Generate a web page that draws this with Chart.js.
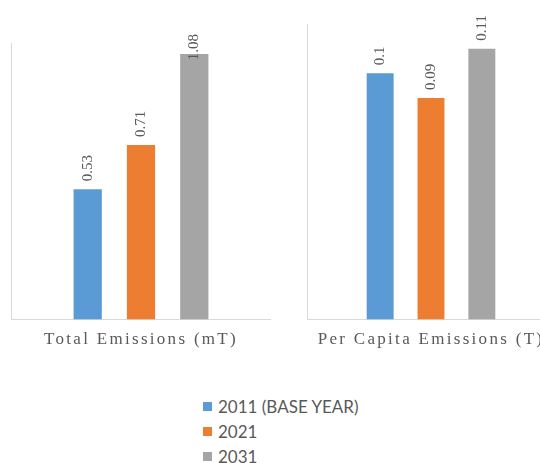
<!DOCTYPE html>
<html>
<head>
<meta charset="utf-8">
<script src="https://cdn.jsdelivr.net/npm/chart.js@4.4.1/dist/chart.umd.min.js"></script>
<style>
  html, body { margin: 0; padding: 0; background: #fff; }
  body { width: 540px; height: 463px; overflow: hidden; position: relative; }
  .panel { position: absolute; }
  #leftPanel { left: 0; top: 32px; width: 271px; height: 328px; }
  #rightPanel { left: 296px; top: 13px; width: 259px; height: 347px; }
  #legend {
    position: absolute; left: 203px; top: 394px;
    font-family: Lato, "Liberation Sans", sans-serif; font-size: 17px; color: #595959;
  }
  #legend div { height: 25px; display: flex; align-items: center; }
  #legend span.box { display: inline-block; width: 9px; height: 9px; margin-right: 6px; }
</style>
</head>
<body>
<div class="panel" id="leftPanel"><canvas id="totalChart"></canvas></div>
<div class="panel" id="rightPanel"><canvas id="perCapitaChart"></canvas></div>
<div id="legend"></div>

<script>
const seriesNames = ['2011 (BASE YEAR)', '2021', '2031'];
const seriesColors = ['#5B9BD5', '#ED7D31', '#A5A5A5'];

const totalLabel = ['Total Emissions (mT)'];
const totalValues = [0.53, 0.71, 1.08];

const perCapitaLabel = ['Per Capita Emissions (T)'];
const perCapitaValues = [0.1, 0.09, 0.11];

// value labels written vertically above each bar, pushed down if they would leave the canvas
const barValueLabels = {
  id: 'barValueLabels',
  afterDatasetsDraw(chart) {
    const ctx = chart.ctx;
    chart.data.datasets.forEach((ds, i) => {
      chart.getDatasetMeta(i).data.forEach((bar, j) => {
        const text = String(ds.data[j]);
        ctx.save();
        ctx.letterSpacing = '0px';
        ctx.font = '15px "Liberation Serif", serif';
        ctx.fillStyle = '#595959';
        ctx.textAlign = 'left';
        ctx.textBaseline = 'middle';
        const w = ctx.measureText(text).width;
        const start = Math.max(bar.y - 8, w + 2);
        ctx.translate(bar.x, start);
        ctx.rotate(-Math.PI / 2);
        ctx.fillText(text, 0, 0);
        ctx.restore();
      });
    });
  }
};

// wide spacing for the category caption
const spacedTicks = {
  id: 'spacedTicks',
  beforeDraw(chart) { chart.ctx.letterSpacing = '2.3px'; }
};

function makeChart(id, category, values, yMax) {
  const ctx = document.getElementById(id).getContext('2d');
  return new Chart(ctx, {
    type: 'bar',
    data: {
      labels: category,
      datasets: seriesNames.map((name, i) => ({
        label: name,
        data: [values[i]],
        backgroundColor: seriesColors[i],
        categoryPercentage: 0.615,
        barPercentage: 0.53
      }))
    },
    options: {
      responsive: true,
      maintainAspectRatio: false,
      animation: false,
      layout: { padding: { left: 3, top: 11, right: 0, bottom: 0 } },
      plugins: { legend: { display: false }, tooltip: { enabled: false } },
      scales: {
        x: {
          grid: { display: true, offset: true, drawTicks: false, color: '#D9D9D9' },
          border: { display: true, color: '#D9D9D9' },
          ticks: {
            padding: 10,
            maxRotation: 0,
            color: '#595959',
            font: { family: '"Liberation Serif", serif', size: 17 }
          }
        },
        y: {
          min: 0,
          max: yMax,
          grid: { display: false },
          border: { display: true, color: '#D9D9D9' },
          ticks: { display: false }
        }
      }
    },
    plugins: [spacedTicks, barValueLabels]
  });
}

makeChart('totalChart', totalLabel, totalValues, 1.125);
makeChart('perCapitaChart', perCapitaLabel, perCapitaValues, 0.12);

const legend = document.getElementById('legend');
seriesNames.forEach((name, i) => {
  const row = document.createElement('div');
  const box = document.createElement('span');
  box.className = 'box';
  box.style.background = seriesColors[i];
  row.appendChild(box);
  row.appendChild(document.createTextNode(name));
  legend.appendChild(row);
});
</script>
</body>
</html>
